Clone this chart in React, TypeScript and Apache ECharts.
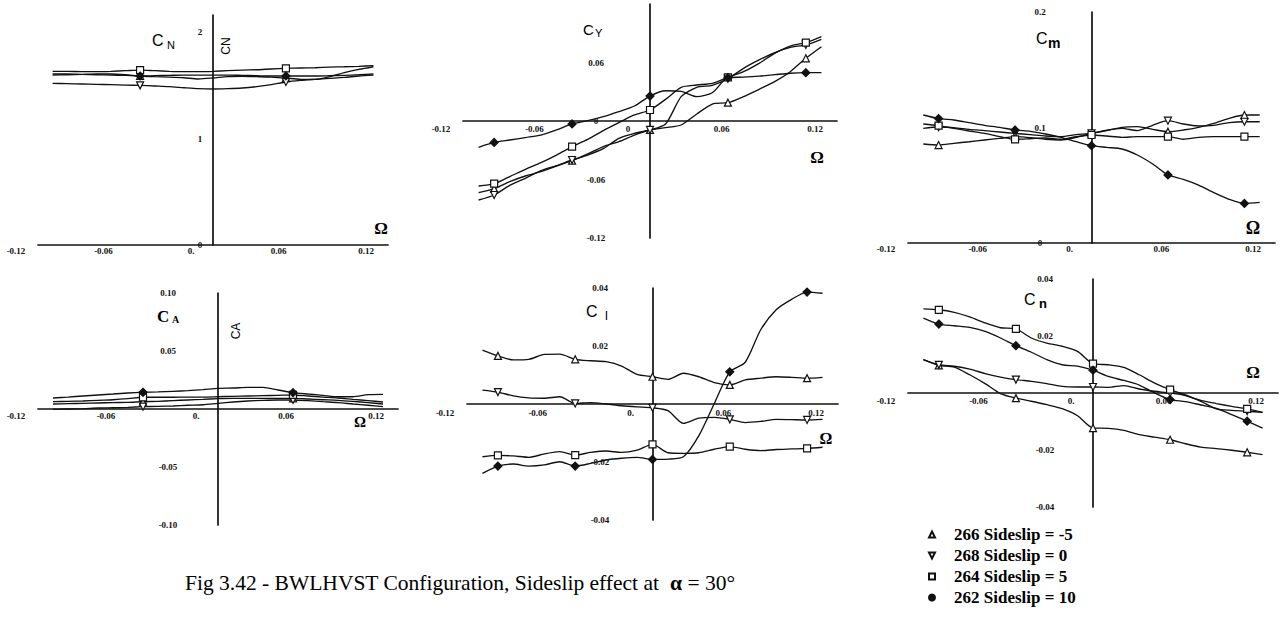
import React, { useEffect, useRef } from 'react';
import * as echarts from 'echarts';

// Rotation rate samples (Ω)
const OMEGA = [-0.11, -0.1, -0.09, -0.08, -0.07, -0.06, -0.05, -0.04, -0.03, -0.02, -0.01, 0, 0.01, 0.02, 0.03, 0.04, 0.05, 0.06, 0.07, 0.08, 0.09, 0.1, 0.11];

const SERIES_NAMES = ['266 Sideslip = -5', '268 Sideslip = 0', '264 Sideslip = 5', '262 Sideslip = 10'];

// Omega values where markers are drawn
const fullMarks = [-0.1, -0.05, 0, 0.05, 0.1];
const sparseMarks = [-0.05, 0.05];

// x tick labels (values -0.12, -0.06, 0, 0.06, 0.12)
const xTickValues = [-0.12, -0.06, 0, 0.06, 0.12];
const xTickLabels = ['-0.12', '-0.06', '0.', '0.06', '0.12'];
const xTickLabelsSide = ['-0.12', '-0.06', '0', '0.06', '0.12'];

// ---- C_N (normal force)
const normalTickValues = [0, 1, 2];
const normalTickLabels = ['0', '1', '2'];
const normal266 = [1.596, 1.599, 1.602, 1.606, 1.606, 1.599, 1.587, 1.581, 1.577, 1.571, 1.559, 1.568, 1.581, 1.584, 1.581, 1.577, 1.568, 1.556, 1.556, 1.581, 1.618, 1.649, 1.674];
const normal268 = [1.518, 1.515, 1.512, 1.509, 1.506, 1.502, 1.499, 1.493, 1.487, 1.477, 1.468, 1.465, 1.468, 1.474, 1.487, 1.506, 1.531, 1.546, 1.556, 1.565, 1.574, 1.587, 1.596];
const normal264 = [1.631, 1.631, 1.628, 1.628, 1.631, 1.637, 1.643, 1.637, 1.631, 1.628, 1.628, 1.631, 1.637, 1.643, 1.646, 1.653, 1.659, 1.662, 1.665, 1.671, 1.674, 1.678, 1.684];
const normal262 = [1.606, 1.606, 1.602, 1.599, 1.596, 1.593, 1.587, 1.59, 1.593, 1.596, 1.596, 1.596, 1.596, 1.593, 1.59, 1.587, 1.587, 1.587, 1.587, 1.59, 1.593, 1.599, 1.606];

// ---- C_Y (side force)
const sideTickValues = [-0.12, -0.06, 0, 0.06];
const sideTickLabels = ['-0.12', '-0.06', '0', '0.06'];
const side266 = [-0.0735, -0.0694, -0.0622, -0.0564, -0.052, -0.0462, -0.0407, -0.0338, -0.0263, -0.0212, -0.0144, -0.0092, -0.0068, -0.0041, 0.0072, 0.0174, 0.0188, 0.025, 0.0325, 0.0403, 0.0506, 0.0643, 0.0762];
const side268 = [-0.081, -0.0759, -0.066, -0.0588, -0.0509, -0.0458, -0.04, -0.0349, -0.0284, -0.0178, -0.0126, -0.0092, -0.0031, 0.025, 0.0345, 0.0366, 0.0434, 0.054, 0.0626, 0.07, 0.0755, 0.078, 0.0838];
const side264 = [-0.0667, -0.0643, -0.057, -0.0496, -0.0427, -0.0349, -0.0263, -0.0188, -0.0099, -0.0017, 0.0062, 0.0113, 0.0222, 0.0345, 0.0369, 0.0386, 0.0448, 0.0506, 0.0591, 0.0694, 0.0769, 0.0803, 0.0865];
const side262 = [-0.027, -0.022, -0.0195, -0.017, -0.0145, -0.0092, -0.003, 0.0003, 0.0044, 0.0096, 0.0154, 0.0256, 0.031, 0.0304, 0.025, 0.029, 0.0444, 0.045, 0.046, 0.0475, 0.049, 0.0496, 0.0496];

// ---- C_m (pitching moment)
const pitchTickValues = [0, 0.1, 0.2];
const pitchTickLabels = ['0', '0.1', '0.2'];
const pitch266 = [0.0857, 0.0848, 0.0863, 0.0877, 0.0892, 0.0906, 0.0921, 0.0912, 0.0898, 0.0892, 0.0915, 0.0949, 0.0973, 0.1001, 0.1007, 0.0984, 0.0964, 0.0978, 0.1001, 0.1036, 0.1079, 0.1108, 0.1108];
const pitch268 = [0.0993, 0.1004, 0.0999, 0.0984, 0.0973, 0.0961, 0.0949, 0.0938, 0.0926, 0.0921, 0.0938, 0.0949, 0.0978, 0.0993, 0.0973, 0.1019, 0.1059, 0.103, 0.1013, 0.1019, 0.1042, 0.105, 0.105];
const pitch264 = [0.103, 0.1016, 0.0993, 0.097, 0.0949, 0.0921, 0.0898, 0.0903, 0.0909, 0.0898, 0.0921, 0.0935, 0.0926, 0.0915, 0.0921, 0.0921, 0.0921, 0.0898, 0.0915, 0.0921, 0.0921, 0.0921, 0.0921];
const pitch262 = [0.1108, 0.1077, 0.1065, 0.1042, 0.1019, 0.1001, 0.0978, 0.0967, 0.0944, 0.0915, 0.0877, 0.0843, 0.0828, 0.0814, 0.0762, 0.0684, 0.0589, 0.0551, 0.0502, 0.0436, 0.0378, 0.0343, 0.0352];

// ---- C_A (axial force)
const axialTickValues = [-0.1, -0.05, 0.05, 0.1];
const axialTickLabels = ['-0.10', '-0.05', '0.05', '0.10'];
const axial266 = [0.0043, 0.0046, 0.0049, 0.0052, 0.0055, 0.0057, 0.0063, 0.0066, 0.0072, 0.0078, 0.0083, 0.0089, 0.0092, 0.0092, 0.0092, 0.0092, 0.0092, 0.0086, 0.008, 0.0075, 0.0066, 0.0055, 0.0043];
const axial268 = [-0.0003, 0, 0.0003, 0.0009, 0.0011, 0.0014, 0.002, 0.0023, 0.0026, 0.0032, 0.0037, 0.0049, 0.006, 0.0069, 0.0075, 0.0078, 0.0078, 0.0072, 0.0063, 0.0055, 0.0043, 0.0032, 0.002];
const axial264 = [0.0063, 0.0066, 0.0069, 0.0075, 0.008, 0.0089, 0.0101, 0.0101, 0.0101, 0.0103, 0.0103, 0.0106, 0.0109, 0.0112, 0.0115, 0.0118, 0.0121, 0.0112, 0.0103, 0.0095, 0.0083, 0.0072, 0.006];
const axial262 = [0.0095, 0.0103, 0.0112, 0.0121, 0.0129, 0.0138, 0.0144, 0.0147, 0.0152, 0.0158, 0.0167, 0.0178, 0.0181, 0.0187, 0.0187, 0.0164, 0.0141, 0.0129, 0.0118, 0.0106, 0.0106, 0.0124, 0.0126];

// ---- C_l (rolling moment)
const rollTickValues = [-0.04, -0.02, 0.02, 0.04];
const rollTickLabels = ['-0.04', '-0.02', '0.02', '0.04'];
const roll266 = [0.0186, 0.0166, 0.0152, 0.0154, 0.0171, 0.0172, 0.0154, 0.0149, 0.0146, 0.0131, 0.0102, 0.0094, 0.0085, 0.0106, 0.0094, 0.0074, 0.0066, 0.0083, 0.0089, 0.0094, 0.0092, 0.0089, 0.0092];
const roll268 = [0.0048, 0.0041, 0.0028, 0.0021, 0.002, 0.0025, 0.0002, 0.0005, 0, -0.0006, -0.001, -0.0013, -0.0023, -0.0067, -0.0049, -0.0046, -0.0053, -0.0064, -0.006, -0.0053, -0.0054, -0.0055, -0.0053];
const roll264 = [-0.0182, -0.0177, -0.0179, -0.0184, -0.0172, -0.0164, -0.0176, -0.0167, -0.0162, -0.0167, -0.0159, -0.0139, -0.0168, -0.017, -0.0168, -0.0156, -0.0147, -0.0156, -0.0161, -0.0157, -0.0155, -0.0153, -0.0149];
const roll262 = [-0.0239, -0.0214, -0.0207, -0.0214, -0.021, -0.0199, -0.0214, -0.0205, -0.0193, -0.0187, -0.0184, -0.0191, -0.019, -0.0182, -0.0109, 0.0002, 0.0111, 0.0144, 0.0256, 0.0325, 0.0361, 0.0386, 0.0382];

// ---- C_n (yawing moment)
const yawTickValues = [-0.04, -0.02, 0.02, 0.04];
const yawTickLabels = ['-0.04', '-0.02', '0.02', '0.04'];
const yaw266 = [0.0117, 0.0097, 0.0091, 0.0064, 0.0033, -0.0002, -0.0018, -0.0029, -0.0041, -0.0055, -0.008, -0.0123, -0.0124, -0.0131, -0.0146, -0.0155, -0.0164, -0.0178, -0.019, -0.0195, -0.0201, -0.0208, -0.0216];
const yaw268 = [0.0117, 0.0099, 0.0094, 0.0084, 0.0068, 0.0056, 0.0047, 0.0041, 0.0033, 0.0023, 0.0021, 0.0021, 0.002, 0.0026, 0.0014, 0.0006, 0, -0.0009, -0.0029, -0.0056, -0.0061, -0.0064, -0.0068];
const yaw264 = [0.0295, 0.0292, 0.0283, 0.0267, 0.0246, 0.0229, 0.0225, 0.0193, 0.0175, 0.0164, 0.0146, 0.0103, 0.0099, 0.009, 0.0064, 0.0035, 0.0012, -0.0007, -0.0026, -0.0037, -0.0047, -0.0056, -0.0068];
const yaw262 = [0.0263, 0.0242, 0.0236, 0.023, 0.0216, 0.0193, 0.0166, 0.0143, 0.0117, 0.0099, 0.0094, 0.008, 0.0058, 0.0044, 0.0028, 0, -0.0023, -0.003, -0.0042, -0.0054, -0.0076, -0.0099, -0.0123];

const DOWN_TRI = 'path://M0,0L10,0L5,10Z';
const SYMBOLS = ['triangle', DOWN_TRI, 'rect', 'diamond'];
const FILLED = [false, false, false, true];
const SYM_SIZE = [7, 7, 7, 8];

const INK = '#111';
const LABEL_FONT = 'Liberation Serif';

type Panel = {
  grid: { left: number; top: number; width: number; height: number };
  yMin: number; yMax: number; yInterval: number;
  yTickValues: number[]; yTickLabels: string[]; yLabelOffset: number;
  xLabels: string[]; xInside: boolean; xMargin: number;
  marks: number[];
  series: number[][];
};

const panels: Panel[] = [
  { grid: { left: 38, top: 15, width: 350, height: 230 }, yMin: 0, yMax: 2.16, yInterval: 1,
    yTickValues: normalTickValues, yTickLabels: normalTickLabels, yLabelOffset: 162, xLabels: xTickLabels, xInside: false, xMargin: 1,
    marks: sparseMarks, series: [normal266, normal268, normal264, normal262] },
  { grid: { left: 463, top: 4, width: 374, height: 234 }, yMin: -0.12, yMax: 0.12, yInterval: 0.06,
    yTickValues: sideTickValues, yTickLabels: sideTickLabels, yLabelOffset: 133, xLabels: xTickLabelsSide, xInside: true, xMargin: 114,
    marks: fullMarks, series: [side266, side268, side264, side262] },
  { grid: { left: 908, top: 12, width: 367, height: 231 }, yMin: 0, yMax: 0.2, yInterval: 0.1,
    yTickValues: pitchTickValues, yTickLabels: pitchTickLabels, yLabelOffset: 132, xLabels: xTickLabels, xInside: false, xMargin: 1,
    marks: fullMarks, series: [pitch266, pitch268, pitch264, pitch262] },
  { grid: { left: 38, top: 293, width: 360, height: 232 }, yMin: -0.1, yMax: 0.1, yInterval: 0.05,
    yTickValues: axialTickValues, yTickLabels: axialTickLabels, yLabelOffset: 130, xLabels: xTickLabels, xInside: true, xMargin: 114,
    marks: sparseMarks, series: [axial266, axial268, axial264, axial262] },
  { grid: { left: 467, top: 288, width: 371, height: 232 }, yMin: -0.04, yMax: 0.04, yInterval: 0.02,
    yTickValues: rollTickValues, yTickLabels: rollTickLabels, yLabelOffset: 133, xLabels: xTickLabels, xInside: true, xMargin: 112,
    marks: fullMarks, series: [roll266, roll268, roll264, roll262] },
  { grid: { left: 908, top: 279, width: 370, height: 228 }, yMin: -0.04, yMax: 0.04, yInterval: 0.02,
    yTickValues: yawTickValues, yTickLabels: yawTickLabels, yLabelOffset: 137, xLabels: xTickLabels, xInside: true, xMargin: 111,
    marks: fullMarks, series: [yaw266, yaw268, yaw264, yaw262] },
];

const lookup = (values: number[], labels: string[]) => (v: number) => {
  const i = values.findIndex((t) => Math.abs(t - v) < 1e-6);
  return i >= 0 ? labels[i] : '';
};

const tickLabelStyle = { fontFamily: LABEL_FONT, fontSize: 9, fontWeight: 'bold', color: INK };

function txt(x: number, y: number, text: string, font: string, extra: any = {}) {
  const { style: extraStyle, ...rest } = extra;
  return {
    type: 'text', x, y, silent: true, ...rest,
    style: { text, font, fill: '#000', align: 'left', verticalAlign: 'middle', textAlign: 'left', textVerticalAlign: 'middle', ...(extraStyle || {}) },
  };
}

const centered = { style: { align: 'center', textAlign: 'center' } };

function buildOption(): any {
  const series: any[] = [];
  panels.forEach((p, pi) => {
    p.series.forEach((vals, si) => {
      series.push({
        type: 'line', name: SERIES_NAMES[si], xAxisIndex: pi, yAxisIndex: pi,
        data: OMEGA.map((x, k) => ({
          value: [x, vals[k]],
          symbol: p.marks.some((m) => Math.abs(m - x) < 1e-9) ? SYMBOLS[si] : 'none',
        })),
        symbol: SYMBOLS[si], symbolSize: SYM_SIZE[si], showAllSymbol: true,
        smooth: 0.25, silent: true, z: 3,
        lineStyle: { color: INK, width: 1.35 },
        itemStyle: { color: FILLED[si] ? INK : '#fff', borderColor: INK, borderWidth: 1.2 },
      });
    });
  });

  const sans = 'Liberation Sans';
  const graphic: any[] = [
    // C_N
    txt(152, 40, 'C', `16px "${sans}"`), txt(167, 45, 'N', `11px "${sans}"`),
    txt(226, 46, 'CN', `12px "${sans}"`, { rotation: Math.PI / 2, ...centered }),
    // C_Y
    txt(583, 29, 'C', `15px "${sans}"`), txt(595, 33, 'Y', `11px "${sans}"`),
    // C_m
    txt(1036, 38, 'C', `16px "${sans}"`), txt(1048, 43, 'm', `bold 14px "${sans}"`),
    // C_A
    txt(157, 316, 'C', `bold 17px "${LABEL_FONT}"`), txt(172, 319, 'A', `bold 10px "${LABEL_FONT}"`),
    txt(236, 331, 'CA', `12px "${sans}"`, { rotation: Math.PI / 2, ...centered }),
    // C_l
    txt(586, 311, 'C', `16px "${sans}"`), txt(605, 315, 'l', `13px "${sans}"`),
    // C_n
    txt(1024, 299, 'C', `16px "${sans}"`), txt(1039, 303, 'n', `bold 13px "${sans}"`),
    // Omega labels
    txt(381, 228, 'Ω', `bold 17px "${LABEL_FONT}"`, centered),
    txt(817, 157, 'Ω', `bold 17px "${LABEL_FONT}"`, centered),
    txt(1253, 228, 'Ω', `bold 18px "${LABEL_FONT}"`, centered),
    txt(360, 422, 'Ω', `bold 15px "${LABEL_FONT}"`, centered),
    txt(826, 438, 'Ω', `bold 16px "${LABEL_FONT}"`, centered),
    txt(1253, 372, 'Ω', `bold 17px "${LABEL_FONT}"`, centered),
    // Caption
    {
      type: 'text', x: 185, y: 583, silent: true,
      style: {
        text: 'Fig 3.42 - BWLHVST Configuration, Sideslip effect at  {a|α} = 30°',
        font: `21.5px "${LABEL_FONT}"`, fill: '#000',
        align: 'left', verticalAlign: 'middle', textAlign: 'left', textVerticalAlign: 'middle',
        rich: { a: { fontFamily: LABEL_FONT, fontSize: 21.5, fontWeight: 'bold', fill: '#000' } },
      },
    },
  ];

  return {
    animation: false,
    backgroundColor: '#fff',
    grid: panels.map((p) => ({ ...p.grid, containLabel: false })),
    xAxis: panels.map((p, i) => ({
      type: 'value', gridIndex: i, min: -0.12, max: 0.12, interval: 0.06,
      axisLine: { onZero: true, lineStyle: { color: INK, width: 1.7 } },
      axisTick: { show: false }, splitLine: { show: false },
      axisLabel: {
        ...tickLabelStyle, inside: p.xInside, margin: p.xMargin, verticalAlign: 'top',
        padding: [0, 44, 0, 0], formatter: lookup(xTickValues, p.xLabels),
      },
    })),
    yAxis: panels.map((p, i) => ({
      type: 'value', gridIndex: i, min: p.yMin, max: p.yMax, interval: p.yInterval,
      axisLine: { show: true, onZero: true, lineStyle: { color: INK, width: 1.7 } },
      axisTick: { show: false }, splitLine: { show: false },
      axisLabel: {
        ...tickLabelStyle, inside: true, margin: p.yLabelOffset, align: 'center',
        formatter: lookup(p.yTickValues, p.yTickLabels),
      },
    })),
    legend: {
      orient: 'vertical', left: 928, top: 526, padding: 0, selectedMode: false,
      itemWidth: 6, itemHeight: 6, itemGap: 4,
      data: SERIES_NAMES.map((n, i) => ({ name: n, icon: i === 3 ? 'circle' : SYMBOLS[i] })),
      textStyle: { fontFamily: LABEL_FONT, fontSize: 17, fontWeight: 'bold', color: '#000', lineHeight: 17, padding: [0, 0, 0, 14] },
    },
    graphic,
    series,
  };
}

export default function App() {
  const ref = useRef<HTMLDivElement>(null);
  useEffect(() => {
    if (!ref.current) return;
    const chart = echarts.init(ref.current, null, { renderer: 'svg' });
    chart.setOption(buildOption());
    return () => chart.dispose();
  }, []);
  return (
    <div
      ref={ref}
      style={{ position: 'fixed', left: 0, top: 0, width: 1285, height: 619, background: '#fff' }}
    />
  );
}
